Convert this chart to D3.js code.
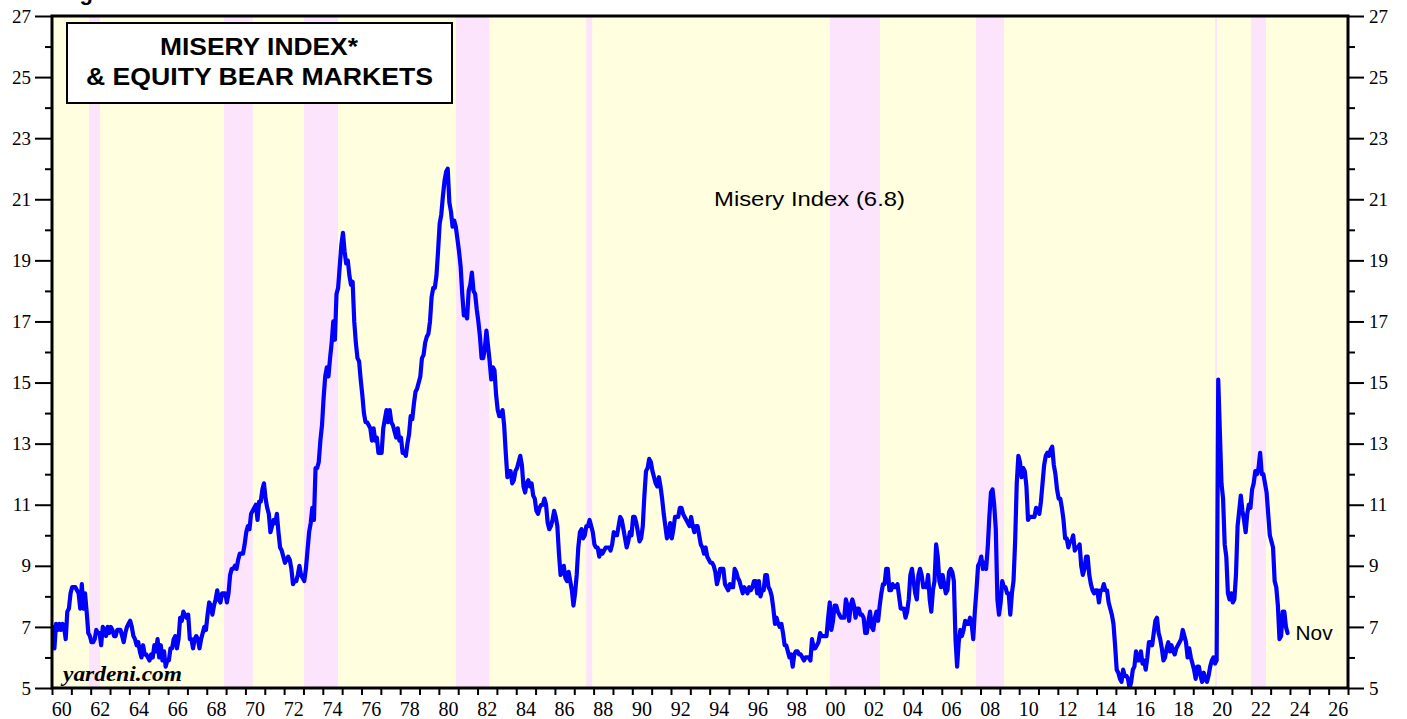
<!DOCTYPE html>
<html>
<head>
<meta charset="utf-8">
<script src="https://cdn.jsdelivr.net/npm/d3@7"></script>
<style>
  html, body { margin: 0; padding: 0; background: #ffffff; }
  svg { display: block; }
</style>
</head>
<body>
<div id="chart"></div>
<script>
// ---------------- DATA ----------------
const startYear = 1960; // first month: Jan 1960, monthly values
const misery = [
  7.0, 6.3, 7.1, 6.9, 7.1, 6.9, 7.1, 7.0, 6.6, 7.5, 7.6, 8.1,       // 1960
  8.3, 8.3, 8.3, 8.2, 8.1, 7.6, 8.4, 7.6, 8.1, 7.5, 6.8, 6.7,       // 1961
  6.5, 6.5, 6.6, 6.9, 6.8, 6.8, 6.4, 7.0, 6.9, 6.7, 7.0, 6.8,       // 1962
  7.0, 6.9, 6.7, 6.7, 6.9, 6.9, 6.9, 6.7, 6.5, 6.8, 7.0, 7.1,       // 1963
  7.2, 7.0, 6.7, 6.6, 6.4, 6.5, 6.2, 6.0, 6.4, 6.1, 6.1, 6.0,       // 1964
  5.9, 6.1, 6.0, 6.4, 6.2, 6.6, 6.0, 6.4, 5.9, 6.2, 5.7, 5.9,       // 1965
  5.9, 6.3, 6.3, 6.6, 6.7, 6.3, 6.6, 7.3, 7.2, 7.5, 7.4, 7.3,       // 1966
  7.4, 6.6, 6.6, 6.3, 6.6, 6.7, 6.6, 6.3, 6.6, 6.8, 7.0, 6.9,       // 1967
  7.4, 7.8, 7.7, 7.4, 7.7, 7.9, 8.2, 7.9, 7.8, 8.1, 8.1, 8.1,       // 1968
  7.8, 8.1, 8.7, 8.9, 8.9, 9.0, 8.9, 9.2, 9.4, 9.4, 9.4, 9.7,       // 1969
  10.1, 10.3, 10.2, 10.7, 10.8, 10.9, 11.0, 10.5, 11.1, 11.1, 11.5, 11.7, // 1970
  11.2, 10.9, 10.7, 10.1, 10.3, 10.5, 10.4, 10.7, 10.1, 9.6, 9.5, 9.3,    // 1971
  9.1, 9.2, 9.3, 9.2, 8.9, 8.4, 8.5, 8.5, 8.7, 9.0, 8.7, 8.6,       // 1972
  8.5, 8.9, 9.5, 10.1, 10.4, 10.9, 10.5, 12.2, 12.2, 12.4, 13.1, 13.6,    // 1973
  14.5, 15.2, 15.5, 15.2, 15.8, 16.3, 17.0, 16.4, 17.9, 18.1, 18.8, 19.5, // 1974
  19.9, 19.3, 18.9, 19.0, 18.5, 18.2, 18.3, 17.0, 16.3, 15.8, 15.7, 15.1, // 1975
  14.6, 14.0, 13.7, 13.7, 13.6, 13.5, 13.1, 13.5, 13.1, 13.2, 12.7, 12.7, // 1976
  12.7, 13.5, 13.8, 14.1, 13.7, 14.1, 13.7, 13.6, 13.4, 13.2, 13.5, 13.1, // 1977
  13.2, 12.7, 12.7, 12.6, 13.0, 13.3, 13.9, 13.8, 14.3, 14.7, 14.8, 15.0, // 1978
  15.2, 15.8, 15.9, 16.3, 16.5, 16.6, 17.0, 17.8, 18.1, 18.1, 18.5, 19.3, // 1979
  20.2, 20.5, 21.1, 21.6, 21.9, 22.0, 20.9, 20.6, 20.1, 20.3, 20.1, 19.7, // 1980
  19.3, 18.8, 17.9, 17.2, 17.3, 17.1, 18.0, 18.2, 18.6, 18.0, 17.9, 17.4, // 1981
  17.0, 16.5, 15.8, 15.8, 16.1, 16.7, 16.2, 15.7, 15.1, 15.5, 15.4, 14.6, // 1982
  14.1, 13.9, 13.9, 14.1, 13.6, 12.7, 11.9, 12.1, 12.1, 11.7, 11.8, 12.1, // 1983
  12.2, 12.4, 12.6, 12.3, 11.6, 11.4, 11.7, 11.8, 11.6, 11.7, 11.3, 11.2, // 1984
  10.8, 10.7, 10.9, 11.0, 11.0, 11.2, 11.0, 10.4, 10.2, 10.3, 10.5, 10.8, // 1985
  10.6, 10.3, 9.4, 8.7, 8.8, 9.0, 8.6, 8.5, 8.8, 8.5, 8.2, 7.7,     // 1986
  8.1, 8.7, 9.6, 10.1, 10.2, 9.9, 10.0, 10.3, 10.3, 10.5, 10.3, 10.1,    // 1987
  9.7, 9.6, 9.6, 9.3, 9.5, 9.4, 9.5, 9.6, 9.6, 9.6, 9.5, 9.7,       // 1988
  10.1, 10.0, 10.0, 10.3, 10.6, 10.5, 10.2, 9.9, 9.6, 9.8, 10.1, 10.0,   // 1989
  10.6, 10.6, 10.4, 10.1, 9.8, 9.9, 10.3, 11.3, 12.1, 12.2, 12.5, 12.4,  // 1990
  12.1, 11.9, 11.7, 11.6, 11.9, 11.6, 11.2, 10.7, 10.3, 9.9, 10.0, 10.4, // 1991
  9.9, 10.2, 10.6, 10.6, 10.6, 10.9, 10.9, 10.7, 10.6, 10.5, 10.4, 10.3, // 1992
  10.6, 10.3, 10.1, 10.3, 10.3, 10.0, 9.7, 9.6, 9.4, 9.6, 9.3, 9.2,   // 1993
  9.1, 9.1, 9.0, 8.8, 8.4, 8.6, 8.9, 8.9, 8.9, 8.4, 8.3, 8.2,       // 1994
  8.4, 8.3, 8.3, 8.9, 8.8, 8.6, 8.5, 8.3, 8.1, 8.3, 8.2, 8.1,       // 1995
  8.3, 8.2, 8.3, 8.5, 8.5, 8.1, 8.5, 8.0, 8.2, 8.2, 8.7, 8.7,       // 1996
  8.3, 8.2, 8.0, 7.6, 7.1, 7.3, 7.1, 7.0, 7.1, 6.8, 6.4, 6.4,       // 1997
  6.2, 6.0, 6.1, 5.7, 6.1, 6.2, 6.2, 6.1, 6.1, 6.0, 5.9, 6.0,       // 1998
  6.0, 6.0, 5.9, 6.6, 6.3, 6.3, 6.4, 6.5, 6.8, 6.7, 6.7, 6.7,       // 1999
  6.7, 7.3, 7.8, 6.9, 7.2, 7.7, 7.7, 7.5, 7.4, 7.3, 7.3, 7.3,       // 2000
  7.9, 7.7, 7.2, 7.7, 7.9, 7.7, 7.3, 7.6, 7.6, 7.4, 7.4, 7.3,       // 2001
  6.8, 6.8, 7.2, 7.5, 7.0, 6.9, 7.3, 7.5, 7.2, 7.7, 8.1, 8.4,       // 2002
  8.4, 8.9, 8.9, 8.2, 8.2, 8.4, 8.3, 8.3, 8.4, 8.0, 7.6, 7.6,       // 2003
  7.6, 7.3, 7.5, 7.9, 8.7, 8.9, 8.5, 8.1, 7.9, 8.7, 8.9, 8.7,       // 2004
  8.3, 8.4, 8.3, 8.7, 7.9, 7.5, 8.2, 8.5, 9.7, 9.3, 8.5, 8.3,       // 2005
  8.7, 8.4, 8.1, 8.2, 8.8, 8.9, 8.8, 8.5, 6.6, 5.7, 6.5, 6.9,       // 2006
  6.7, 6.9, 7.2, 7.1, 7.1, 7.3, 7.1, 6.6, 7.5, 8.2, 9.0, 9.1,       // 2007
  9.3, 8.9, 9.1, 8.9, 9.6, 10.6, 11.4, 11.5, 11.0, 10.2, 7.9, 7.4,  // 2008
  7.8, 8.5, 8.3, 8.3, 8.1, 8.1, 7.4, 8.1, 8.5, 9.8, 11.7, 12.6,     // 2009
  12.4, 11.9, 12.2, 12.1, 11.6, 10.5, 10.6, 10.6, 10.6, 10.6, 10.9, 10.8, // 2010
  10.7, 11.1, 11.7, 12.3, 12.6, 12.7, 12.6, 12.8, 12.9, 12.3, 12.0, 11.5, // 2011
  11.2, 11.2, 10.9, 10.5, 9.9, 9.9, 9.6, 9.8, 9.8, 10.0, 9.5, 9.6,  // 2012
  9.6, 9.7, 9.0, 8.7, 8.9, 9.3, 9.3, 8.7, 8.4, 8.2, 8.1, 8.2,       // 2013
  8.2, 7.8, 8.2, 8.2, 8.4, 8.2, 8.2, 7.8, 7.6, 7.4, 7.1, 6.4,       // 2014
  5.6, 5.5, 5.3, 5.2, 5.6, 5.4, 5.4, 5.3, 5.0, 5.2, 5.6, 5.7,       // 2015
  6.2, 5.9, 5.9, 6.2, 5.8, 5.9, 5.6, 6.0, 6.5, 6.5, 6.4, 6.8,       // 2016
  7.2, 7.3, 6.8, 6.6, 6.3, 5.9, 6.0, 6.3, 6.5, 6.2, 6.4, 6.2,       // 2017
  6.1, 6.3, 6.4, 6.5, 6.6, 6.9, 6.7, 6.5, 6.0, 6.3, 6.0, 5.8,       // 2018
  5.6, 5.3, 5.7, 5.7, 5.4, 5.2, 5.5, 5.3, 5.2, 5.4, 5.7, 5.9,       // 2019
  6.0, 5.8, 5.9, 15.1, 13.4, 11.7, 11.2, 9.7, 9.3, 8.1, 7.9, 8.1,   // 2020
  7.8, 7.9, 8.7, 10.3, 10.8, 11.3, 10.8, 10.5, 10.1, 10.7, 11.0, 10.9,   // 2021
  11.5, 11.7, 12.1, 12.0, 12.2, 12.7, 12.0, 12.0, 11.7, 11.4, 10.7, 10.0, // 2022
  9.8, 9.6, 8.5, 8.3, 7.7, 6.6, 6.7, 7.5, 7.5, 7.0, 6.8             // 2023 (to Nov)
];

// Equity bear markets (decimal years)
const bearStarts = [1961.92, 1968.89, 1973.03, 1980.89, 1987.62, 2000.21, 2007.77, 2020.13, 2021.99];
const bearEnds   = [1962.48, 1970.38, 1974.79, 1982.61, 1987.93, 2002.80, 2009.21, 2020.23, 2022.76];

const yTickValues = [5, 7, 9, 11, 13, 15, 17, 19, 21, 23, 25, 27];
const yMinorValues = [6, 8, 10, 12, 14, 16, 18, 20, 22, 24, 26];
const xTickLabels = ["60","62","64","66","68","70","72","74","76","78","80","82","84","86","88","90","92","94","96","98","00","02","04","06","08","10","12","14","16","18","20","22","24","26"];
const xLabelYears = [1960,1962,1964,1966,1968,1970,1972,1974,1976,1978,1980,1982,1984,1986,1988,1990,1992,1994,1996,1998,2000,2002,2004,2006,2008,2010,2012,2014,2016,2018,2020,2022,2024,2026];

const titleLines = ["MISERY INDEX*", "& EQUITY BEAR MARKETS"];
const seriesLabel = "Misery Index (6.8)";
const lastLabel = "Nov";

// ---------------- LAYOUT ----------------
const W = 1407, H = 719;
const L = 52, R = 1348, T = 16, B = 688;

const x = d3.scaleLinear().domain([1960, 2027]).range([L, R]);
const y = d3.scaleLinear().domain([5, 27]).range([B, T]);

const svg = d3.select("#chart").append("svg")
  .attr("width", W).attr("height", H)
  .attr("viewBox", `0 0 ${W} ${H}`);

svg.append("defs").append("clipPath").attr("id", "plotclip")
  .append("rect").attr("x", L).attr("y", T).attr("width", R - L).attr("height", B - T);

// top partial caption (cut off by the page edge, as in the original)
svg.append("text")
  .attr("x", 60).attr("y", 0)
  .attr("font-family", "Liberation Sans, Arial, sans-serif")
  .attr("font-weight", "bold").attr("font-size", 22)
  .text("Figure 5.");

// background
svg.append("rect").attr("x", L).attr("y", T).attr("width", R - L).attr("height", B - T)
  .attr("fill", "#ffffe0");

const bears = bearStarts.map((s, i) => ({ s, e: bearEnds[i] }));
svg.append("g").attr("clip-path", "url(#plotclip)")
  .selectAll("rect").data(bears).join("rect")
  .attr("x", d => x(d.s)).attr("y", T)
  .attr("width", d => Math.max(1.5, x(d.e) - x(d.s)))
  .attr("height", B - T)
  .attr("fill", "#fce4fc");

// series line
const line = d3.line()
  .x((d, i) => x(startYear + (i + 0.5) / 12))
  .y(d => y(d));

svg.append("path")
  .datum(misery)
  .attr("clip-path", "url(#plotclip)")
  .attr("fill", "none")
  .attr("stroke", "#0000ff")
  .attr("stroke-width", 4.2)
  .attr("stroke-linejoin", "round")
  .attr("stroke-linecap", "round")
  .attr("d", line);

// ---------------- AXES ----------------
const serif = "Liberation Serif, Times New Roman, serif";

const leftMajor = d3.axisLeft(y).tickValues(yTickValues).tickSize(17).tickPadding(4).tickFormat(d3.format("d"));
const gL = svg.append("g").attr("transform", `translate(${L},0)`).call(leftMajor);
const leftMinor = d3.axisLeft(y).tickValues(yMinorValues).tickSize(7).tickFormat("");
const gL2 = svg.append("g").attr("transform", `translate(${L},0)`).call(leftMinor);

const rightMajor = d3.axisRight(y).tickValues(yTickValues).tickSize(16).tickPadding(5).tickFormat(d3.format("d"));
const gR = svg.append("g").attr("transform", `translate(${R},0)`).call(rightMajor);
const rightMinor = d3.axisRight(y).tickValues(yMinorValues).tickSize(7).tickFormat("");
const gR2 = svg.append("g").attr("transform", `translate(${R},0)`).call(rightMinor);

const bottomTicks = d3.axisBottom(x).tickValues(d3.range(1960, 2028)).tickSize(7).tickFormat("");
const gB = svg.append("g").attr("transform", `translate(0,${B})`).call(bottomTicks);

[gL, gL2, gR, gR2, gB].forEach(g => {
  g.select(".domain").remove();
  g.selectAll(".tick line").attr("stroke", "#000").attr("stroke-width", 2);
  g.selectAll(".tick text").attr("font-family", serif).attr("font-size", 19).attr("fill", "#000");
});

svg.append("g").selectAll("text").data(xLabelYears).join("text")
  .attr("x", d => x(d + 0.5))
  .attr("y", 716)
  .attr("text-anchor", "middle")
  .attr("font-family", serif)
  .attr("font-size", 20)
  .attr("fill", "#000")
  .text((d, i) => xTickLabels[i]);

svg.append("rect").attr("x", L).attr("y", T).attr("width", R - L).attr("height", B - T)
  .attr("fill", "none").attr("stroke", "#000").attr("stroke-width", 3);

// ---------------- TEXT ----------------
const sans = "Liberation Sans, Arial, Helvetica, sans-serif";

svg.append("rect").attr("x", 67).attr("y", 23).attr("width", 385).attr("height", 80)
  .attr("fill", "#ffffff").attr("stroke", "#000").attr("stroke-width", 2);

svg.append("text").attr("x", 160).attr("y", 55)
  .attr("font-family", sans).attr("font-weight", "bold").attr("font-size", 24)
  .attr("textLength", 198).attr("lengthAdjust", "spacingAndGlyphs")
  .text(titleLines[0]);
svg.append("text").attr("x", 86).attr("y", 85)
  .attr("font-family", sans).attr("font-weight", "bold").attr("font-size", 24)
  .attr("textLength", 347).attr("lengthAdjust", "spacingAndGlyphs")
  .text(titleLines[1]);

svg.append("text").attr("x", 714).attr("y", 206)
  .attr("font-family", sans).attr("font-size", 21).attr("fill", "#000")
  .attr("textLength", 191).attr("lengthAdjust", "spacingAndGlyphs")
  .text(seriesLabel);

const lastX = x(startYear + (misery.length - 0.5) / 12);
svg.append("text").attr("x", lastX + 8).attr("y", 640)
  .attr("font-family", sans).attr("font-size", 20).attr("fill", "#000")
  .attr("textLength", 37).attr("lengthAdjust", "spacingAndGlyphs")
  .text(lastLabel);

svg.append("text").attr("x", 63).attr("y", 681)
  .attr("font-family", serif).attr("font-weight", "bold").attr("font-style", "italic")
  .attr("font-size", 21).attr("fill", "#000")
  .attr("textLength", 119).attr("lengthAdjust", "spacingAndGlyphs")
  .text("yardeni.com");
</script>
</body>
</html>
